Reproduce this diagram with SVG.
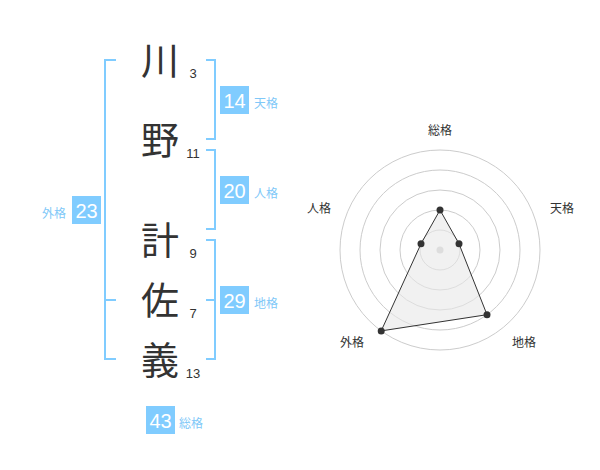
<svg xmlns="http://www.w3.org/2000/svg" width="600" height="470" viewBox="0 0 600 470">
<style>
.kanji{font-family:"Noto Sans CJK JP","Noto Sans CJK SC",sans-serif;font-size:38px;fill:#333;text-anchor:middle}
.cnt{font-family:"Liberation Sans",Arial,sans-serif;font-size:13px;fill:#333;text-anchor:middle}
.br{fill:none;stroke:#80CCFF;stroke-width:2}
.box{fill:#80CCFF}
.bn{font-family:"Liberation Sans",Arial,sans-serif;font-size:20px;fill:#fff;text-anchor:middle}
.bl{font-family:"Noto Sans CJK JP","Noto Sans CJK SC",sans-serif;font-size:12px;fill:#80C8F8}
.ring{fill:none;stroke:#ccc;stroke-width:1}
.rl{font-family:"Noto Sans CJK JP","Noto Sans CJK SC",sans-serif;font-size:12px;fill:#333;text-anchor:middle}
.pt{fill:#333}
</style>
<rect width="600" height="470" fill="#fff"/>
<g id="connectors">
<path class="br" d="M116,60 H105 V359 H116 M105,300 H116"/>
<path class="br" d="M206,60 H215 V139 H206"/>
<path class="br" d="M206,150 H215 V229 H206"/>
<path class="br" d="M206,240 H215 V359 H206 M215,300 H206"/>
</g>
<g id="char-kawa"><text class="kanji" x="160" y="74">川</text><text class="cnt" x="193" y="78">3</text></g>
<g id="char-no"><text class="kanji" x="160" y="154">野</text><text class="cnt" x="193" y="158">11</text></g>
<g id="char-kei"><text class="kanji" x="160" y="254">計</text><text class="cnt" x="193" y="258">9</text></g>
<g id="char-sa"><text class="kanji" x="160" y="314">佐</text><text class="cnt" x="193" y="318">7</text></g>
<g id="char-gi"><text class="kanji" x="160" y="374">義</text><text class="cnt" x="193" y="378">13</text></g>
<g id="tenkaku"><rect class="box" x="220" y="86" width="29" height="28"/><text class="bn" x="234.5" y="107.5">14</text><text class="bl" x="254" y="108">天格</text></g>
<g id="jinkaku"><rect class="box" x="220" y="176" width="29" height="28"/><text class="bn" x="234.5" y="197.5">20</text><text class="bl" x="254" y="198">人格</text></g>
<g id="chikaku"><rect class="box" x="220" y="286" width="29" height="28"/><text class="bn" x="234.5" y="307.5">29</text><text class="bl" x="254" y="308">地格</text></g>
<g id="gaikaku"><rect class="box" x="72" y="196" width="29" height="28"/><text class="bn" x="86.5" y="217.5">23</text><text class="bl" x="66" y="218" text-anchor="end">外格</text></g>
<g id="soukaku"><rect class="box" x="146" y="406" width="29" height="28"/><text class="bn" x="160.5" y="427.5">43</text><text class="bl" x="179" y="428">総格</text></g>
<g id="radar">
<circle class="ring" cx="440" cy="250" r="100"/>
<circle class="ring" cx="440" cy="250" r="80"/>
<circle class="ring" cx="440" cy="250" r="60"/>
<circle class="ring" cx="440" cy="250" r="40"/>
<circle class="ring" cx="440" cy="250" r="20"/>
<circle cx="440" cy="250" r="3.5" fill="#ccc"/>
<polygon points="440,210 459.0,243.8 487.0,314.7 381.2,330.9 421.0,243.8" fill="#e8e8e8" fill-opacity="0.6" stroke="#333" stroke-width="1"/>
<circle class="pt" cx="440" cy="210" r="3.5"/>
<circle class="pt" cx="459.0" cy="243.8" r="3.5"/>
<circle class="pt" cx="487.0" cy="314.7" r="3.5"/>
<circle class="pt" cx="381.2" cy="330.9" r="3.5"/>
<circle class="pt" cx="421.0" cy="243.8" r="3.5"/>
<text class="rl" x="440" y="135">総格</text>
<text class="rl" x="562" y="213">天格</text>
<text class="rl" x="524" y="347">地格</text>
<text class="rl" x="352" y="347">外格</text>
<text class="rl" x="319" y="213">人格</text>
</g>
</svg>
